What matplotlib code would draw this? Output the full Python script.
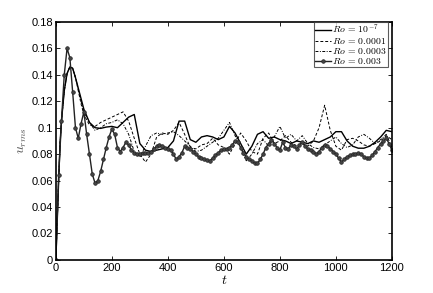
import numpy as np
import matplotlib
matplotlib.use("Agg")
import matplotlib.pyplot as plt

plt.rcParams['font.family'] = ['Liberation Sans', 'DejaVu Sans']
plt.rcParams['mathtext.fontset'] = 'cm'

# shared time grid for the three plain lines
t_lines = [0, 5, 10, 15, 20, 30, 40, 50, 60, 70, 80, 90, 100,
           120, 140, 160, 180, 200, 220, 240, 260, 280, 300, 320, 340, 360,
           380, 400, 420, 440, 460, 480, 500, 520, 540, 560, 580, 600, 620,
           640, 660, 680, 700, 720, 740, 760, 780, 800, 820, 840, 860, 880,
           900, 920, 940, 960, 980, 1000, 1020, 1040, 1060, 1080, 1100, 1120,
           1140, 1160, 1180, 1200]

u_ro_1e7 = [0, 0.030, 0.060, 0.088, 0.105, 0.128, 0.141, 0.146, 0.145, 0.138, 0.130, 0.122, 0.114,
            0.104, 0.100, 0.0995, 0.1005, 0.101, 0.100, 0.104, 0.108, 0.110, 0.088, 0.083, 0.082, 0.083,
            0.084, 0.085, 0.090, 0.105, 0.105, 0.091, 0.089, 0.093, 0.094, 0.093, 0.091, 0.093, 0.101,
            0.096, 0.088, 0.080, 0.086, 0.095, 0.097, 0.092, 0.093, 0.091, 0.090, 0.088, 0.090, 0.089,
            0.088, 0.090, 0.089, 0.091, 0.093, 0.097, 0.097, 0.090, 0.086, 0.0845, 0.0845, 0.086,
            0.089, 0.093, 0.098, 0.097]

u_ro_1e4 = [0, 0.030, 0.060, 0.088, 0.105, 0.128, 0.141, 0.146, 0.145, 0.138, 0.128, 0.118, 0.110,
            0.102, 0.101, 0.104, 0.106, 0.108, 0.110, 0.112, 0.105, 0.092, 0.080, 0.074, 0.080, 0.093,
            0.096, 0.095, 0.098, 0.104, 0.095, 0.085, 0.084, 0.087, 0.088, 0.092, 0.087, 0.085, 0.080,
            0.088, 0.096, 0.090, 0.082, 0.080, 0.092, 0.096, 0.088, 0.090, 0.094, 0.089, 0.086, 0.088,
            0.086, 0.090, 0.100, 0.117, 0.098, 0.086, 0.083, 0.091, 0.092, 0.090, 0.087, 0.086,
            0.088, 0.090, 0.094, 0.091]

u_ro_3e4 = [0, 0.030, 0.060, 0.088, 0.105, 0.128, 0.141, 0.146, 0.145, 0.138, 0.129, 0.120, 0.112,
            0.104, 0.098, 0.100, 0.103, 0.104, 0.106, 0.103, 0.095, 0.082, 0.078, 0.086, 0.094, 0.096,
            0.095, 0.096, 0.097, 0.094, 0.090, 0.086, 0.082, 0.083, 0.086, 0.089, 0.092, 0.098, 0.104,
            0.094, 0.085, 0.075, 0.080, 0.088, 0.091, 0.086, 0.093, 0.101, 0.092, 0.095, 0.090, 0.094,
            0.088, 0.085, 0.084, 0.087, 0.090, 0.093, 0.088, 0.085, 0.087, 0.093, 0.095, 0.092,
            0.088, 0.091, 0.095, 0.085]

# Ro = 0.003 is sampled every 10 time units (markers)
t_marked = list(range(0, 1201, 10))
u_ro_3e3 = [0.0, 0.064, 0.105, 0.140, 0.160, 0.153, 0.127, 0.100, 0.092, 0.103,
            0.112, 0.095, 0.080, 0.065, 0.058, 0.060, 0.067, 0.076, 0.085, 0.093,
            0.099, 0.095, 0.085, 0.082, 0.085, 0.089, 0.087, 0.083, 0.081, 0.080,
            0.080, 0.081, 0.081, 0.081, 0.082, 0.084, 0.086, 0.087, 0.086, 0.085,
            0.084, 0.083, 0.080, 0.076, 0.078, 0.081, 0.086, 0.085, 0.084, 0.082,
            0.080, 0.078, 0.077, 0.076, 0.0755, 0.075, 0.077, 0.079, 0.081, 0.083,
            0.084, 0.084, 0.085, 0.087, 0.090, 0.089, 0.085, 0.081, 0.078, 0.076,
            0.075, 0.073, 0.073, 0.076, 0.080, 0.085, 0.088, 0.091, 0.088, 0.085,
            0.083, 0.089, 0.085, 0.084, 0.087, 0.086, 0.084, 0.087, 0.089, 0.086,
            0.084, 0.083, 0.082, 0.080, 0.082, 0.085, 0.087, 0.086, 0.084, 0.082,
            0.080, 0.077, 0.074, 0.076, 0.078, 0.079, 0.080, 0.080, 0.081, 0.080,
            0.078, 0.077, 0.077, 0.079, 0.082, 0.085, 0.088, 0.090, 0.092, 0.088,
            0.083]

labels = [r'$Ro\,=\,10^{-7}$', r'$Ro\,=\,0.0001$', r'$Ro\,=\,0.0003$', r'$Ro\,=\,0.003$']

fig = plt.figure(figsize=(4.33, 2.93), dpi=100)
ax = fig.add_axes([0.129, 0.113, 0.776, 0.812])

ax.plot(t_lines, u_ro_1e7, 'k-', lw=1.0, label=labels[0])
ax.plot(t_lines, u_ro_1e4, 'k--', lw=0.7, dashes=(3, 2), label=labels[1])
ax.plot(t_lines, u_ro_3e4, 'k-.', lw=0.7, dashes=(3, 1.5, 1, 1.5), label=labels[2])
ax.plot(t_marked, u_ro_3e3, '-', color='#222222', lw=1.0, marker='o',
        ms=2.6, mfc='#444444', mec='#222222', mew=0.5, label=labels[3])

ax.set_xlim(0, 1200)
ax.set_ylim(0, 0.18)
ax.set_xticks(np.arange(0, 1201, 200))
ax.set_yticks(np.arange(0, 0.181, 0.02))
ax.set_yticklabels(['%g' % round(v, 2) for v in np.arange(0, 0.181, 0.02)])
ax.tick_params(direction='in', top=True, right=True, length=3, width=0.6,
               labelsize=8, pad=2)
for s in ax.spines.values():
    s.set_linewidth(1.2)

ax.set_xlabel(r'$t$', fontsize=10, labelpad=0)
ax.set_ylabel(r'$u_{rms}$', fontsize=10, color='#555555', labelpad=2)

leg = ax.legend(loc='upper right', bbox_to_anchor=(0.988, 1.0), fontsize=7,
                frameon=True, fancybox=False, edgecolor='#333333',
                labelspacing=0.0, handlelength=1.6, handletextpad=0.2,
                borderpad=0.1, borderaxespad=0.0)
leg.get_frame().set_linewidth(0.8)

fig.savefig('out.png', dpi=100)
